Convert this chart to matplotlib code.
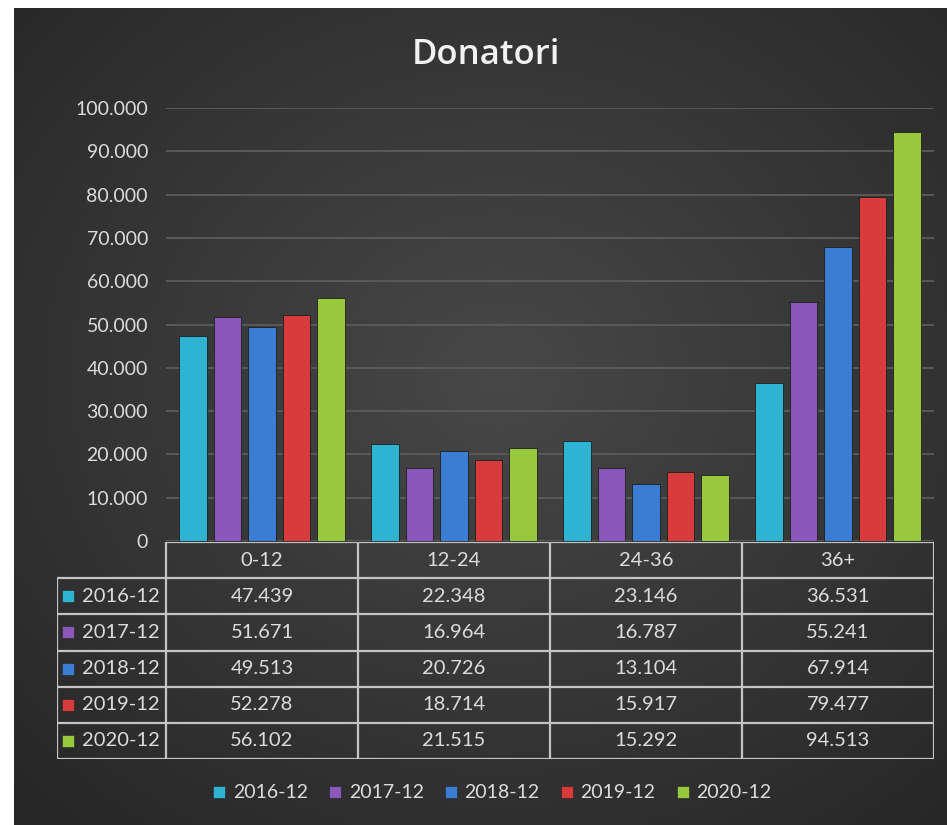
import numpy as np
import matplotlib.pyplot as plt
from matplotlib.lines import Line2D
from matplotlib.ticker import FuncFormatter, FixedLocator

plt.rcParams['font.family'] = ['Lato', 'DejaVu Sans']

# ---------------- data ----------------
categories = ['0-12', '12-24', '24-36', '36+']
series = ['2016-12', '2017-12', '2018-12', '2019-12', '2020-12']
v2016 = [47439, 22348, 23146, 36531]
v2017 = [51671, 16964, 16787, 55241]
v2018 = [49513, 20726, 13104, 67914]
v2019 = [52278, 18714, 15917, 79477]
v2020 = [56102, 21515, 15292, 94513]
values = [v2016, v2017, v2018, v2019, v2020]
yticks = list(range(0, 100001, 10000))
title = 'Donatori'

colors = ['#2db4d2', '#8a58bb', '#3a7dd3', '#d83b3b', '#98c93d']
txt_col = '#dcdcdc'
line_col = '#c4c4c4'

W, H = 947, 825
fig = plt.figure(figsize=(W / 100, H / 100), dpi=100, facecolor='white')


def fx(px):
    return px / W


def fy(py):
    return 1 - py / H


def fmt(v):
    return f"{int(v):,}".replace(',', '.')


# ---------------- background ----------------
bg = fig.add_axes([fx(14), 0, 1 - fx(14), fy(8)])
bg.set_axis_off()
ny, nx = 300, 300
yy, xx = np.mgrid[0:1:ny * 1j, 0:1:nx * 1j]
r = np.sqrt(((xx - 0.52) / 0.75) ** 2 + ((yy - 0.45) / 0.75) ** 2)
r = np.clip(r, 0, 1)
c_in = np.array([0x48, 0x48, 0x48]) / 255
c_out = np.array([0x26, 0x26, 0x26]) / 255
img = c_in[None, None, :] + (c_out - c_in)[None, None, :] * r[..., None]
bg.imshow(img, extent=[0, 1, 0, 1], aspect='auto', origin='upper')
bg.set_xlim(0, 1)
bg.set_ylim(0, 1)

# ---------------- main bar axes ----------------
left_px, right_px, top_px, bot_px = 166, 934, 108, 541
ax = fig.add_axes([fx(left_px), fy(bot_px), fx(right_px) - fx(left_px), fy(top_px) - fy(bot_px)])
ax.patch.set_alpha(0)
x = np.arange(len(categories))
step = 0.18
width = 0.143
for i, (s, vals) in enumerate(zip(series, values)):
    ax.bar(x + (i - 2) * step, vals, width=width, color=colors[i],
           edgecolor='#1e1e1e', linewidth=0.6, zorder=3)
ax.set_xlim(-0.5, len(categories) - 0.5)
ax.set_ylim(0, 100000)
ax.yaxis.set_major_locator(FixedLocator(yticks))
ax.yaxis.set_major_formatter(FuncFormatter(lambda v, p: fmt(v)))
ax.grid(axis='y', color='#5c5c5c', linewidth=1.3, zorder=0)
ax.tick_params(axis='y', length=0, pad=13, labelsize=14, labelcolor=txt_col)
ax.set_xticks([])
for sp in ax.spines.values():
    sp.set_visible(False)

# ---------------- data table ----------------
tab_left_px, tab_top_px, tab_bot_px = 57, 542, 759
cat_px = (right_px - left_px) / len(categories)
lab_w = (left_px - tab_left_px) / cat_px
tax = fig.add_axes([fx(tab_left_px), fy(tab_bot_px), fx(right_px) - fx(tab_left_px),
                    fy(tab_top_px) - fy(tab_bot_px)])
tax.set_axis_off()
tax.patch.set_alpha(0)
x0 = -0.5 - lab_w
x1 = len(categories) - 0.5
nrows = len(series) + 1
tax.set_xlim(x0, x1)
tax.set_ylim(nrows, 0)
lw = 1.6
tax.plot([-0.5, x1], [0, 0], color=line_col, lw=lw, solid_capstyle='butt')
for rr in range(1, nrows + 1):
    tax.plot([x0, x1], [rr, rr], color=line_col, lw=lw, solid_capstyle='butt')
tax.plot([x0, x0], [1, nrows], color=line_col, lw=lw, solid_capstyle='butt')
for c in range(len(categories) + 1):
    tax.plot([c - 0.5, c - 0.5], [0, nrows], color=line_col, lw=lw, solid_capstyle='butt')
for c, cat in enumerate(categories):
    tax.text(c, 0.5, cat, ha='center', va='center', color=txt_col, fontsize=14.5)
for i, (s, vals) in enumerate(zip(series, values)):
    yrow = i + 1.5
    tax.plot([x0 + 0.055], [yrow], marker='s', markersize=8, color=colors[i],
             markeredgecolor='#222222', markeredgewidth=0.4)
    tax.text(x0 + 0.13, yrow, s, ha='left', va='center', color=txt_col, fontsize=14.5)
    for c, v in enumerate(vals):
        tax.text(c, yrow, fmt(v), ha='center', va='center', color=txt_col, fontsize=14.5)

# ---------------- title ----------------
fig.text(fx(486), fy(55), title, ha='center', va='center', color='#f2f2f2',
         fontsize=25, fontweight='semibold', family=['Open Sans', 'DejaVu Sans'])

# ---------------- legend ----------------
handles = [Line2D([], [], marker='s', linestyle='none', markersize=8, color=c,
                  markeredgecolor='#222222', markeredgewidth=0.4) for c in colors]
fig.legend(handles, series, loc='center', bbox_to_anchor=(fx(492), fy(793)), ncol=5,
           frameon=False, fontsize=14, labelcolor=txt_col, handlelength=0.7,
           handletextpad=0.35, columnspacing=1.05)

fig.savefig('out.png', dpi=100, facecolor='white')
